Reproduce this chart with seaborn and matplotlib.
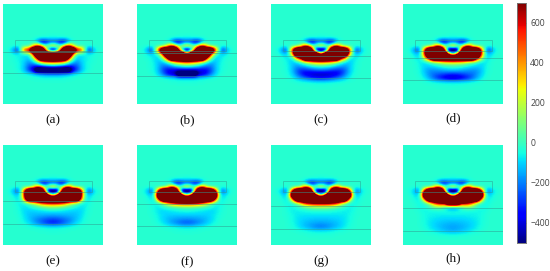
import numpy as np
import matplotlib
matplotlib.use("Agg")
import matplotlib.pyplot as plt
from matplotlib.patches import Rectangle
import seaborn as sns

sns.set_theme(style="white")

panel_labels = ["(a)", "(b)", "(c)", "(d)", "(e)", "(f)", "(g)", "(h)"]
cbar_ticks = [-400, -200, 0, 200, 400, 600]
vmin, vmax = -500, 700
background_level = -25
# cells at or past these readings sit off the colour scale
saturated_high, saturated_low = 850, -470
off_scale_high, off_scale_low = 1700, -900
# depth of the two horizontal layer lines in each panel (percent of panel height)
layer_top = [47.7, 49, 51.5, 53.7, 56.3, 59, 61, 63]
layer_bottom = [69, 72, 74, 76, 79, 81, 84, 86]

Z = [0] * 12
# half field: rows go down the panel, columns go from the centre outwards
a = [
 [-30,-20,-10,-5,-5,0,0,0,0,0,0,0],
 [-300,-320,-440,-440,-150,-20,0,0,0,0,0,0],
 [500,300,100,500,700,250,-10,0,0,0,0,0],
 [-500,-450,600,900,900,850,800,750,100,-350,-130,-20],
 [900,900,900,900,900,450,-20,-60,-40,-30,-20,-5],
 [900,900,900,900,650,100,-80,-60,-40,-30,-10,0],
 [500,450,400,250,50,-80,-150,-90,-40,-20,-10,0],
 [-80,-100,-150,-200,-250,-280,-220,-110,-40,-20,0,0],
 [-480,-480,-480,-480,-480,-400,-260,-120,-40,-15,0,0],
 [-150,-150,-140,-110,-80,-55,-30,-15,-5,0,0,0],
 [-20,-20,-20,-15,-10,-5,0,0,0,0,0,0],
 Z, Z, Z, Z,
]
b = [
 [-30,-20,-10,-5,-5,0,0,0,0,0,0,0],
 [-300,-320,-440,-430,-140,-20,0,0,0,0,0,0],
 [520,320,100,500,680,220,-10,0,0,0,0,0],
 [-500,-450,600,900,900,900,850,750,50,-330,-110,-20],
 [800,900,900,900,900,850,600,60,-60,-60,-30,0],
 [900,900,900,900,850,600,150,-80,-60,-30,-10,0],
 [550,500,420,300,120,0,-100,-100,-50,-20,0,0],
 [0,-10,-40,-80,-140,-190,-180,-110,-40,-15,0,0],
 [-330,-330,-340,-350,-350,-320,-240,-120,-40,-15,0,0],
 [-470,-470,-470,-450,-400,-310,-190,-85,-25,0,0,0],
 [-60,-60,-55,-45,-35,-20,-10,-5,0,0,0,0],
 [-10,-10,-10,-5,-5,0,0,0,0,0,0,0],
 Z, Z, Z,
]
c = [
 [-30,-20,-10,-5,-5,0,0,0,0,0,0,0],
 [-300,-320,-440,-420,-130,-20,0,0,0,0,0,0],
 [530,330,100,500,660,180,-10,0,0,0,0,0],
 [-500,-470,550,900,900,900,900,750,20,-310,-100,-20],
 [500,900,900,900,900,900,850,500,-20,-80,-30,0],
 [850,900,900,900,850,750,450,-20,-60,-30,-10,0],
 [450,420,350,250,120,30,-60,-90,-50,-20,0,0],
 [20,10,-10,-40,-80,-120,-140,-100,-40,-15,0,0],
 [-170,-180,-210,-240,-270,-270,-210,-110,-40,-10,0,0],
 [-440,-440,-430,-410,-370,-290,-190,-90,-25,-5,0,0],
 [-320,-310,-280,-240,-190,-140,-85,-35,-10,0,0,0],
 [-30,-30,-25,-20,-15,-10,-5,0,0,0,0,0],
 [-5,-5,-5,0,0,0,0,0,0,0,0,0],
 Z, Z,
]
d = [
 [-30,-20,-10,-5,-5,0,0,0,0,0,0,0],
 [-300,-320,-430,-410,-120,-20,0,0,0,0,0,0],
 [550,350,100,500,620,120,-10,0,0,0,0,0],
 [-500,-480,500,900,900,900,900,700,-30,-300,-100,-20],
 [100,600,900,900,900,900,900,700,0,-90,-30,0],
 [850,850,850,850,850,850,800,350,-40,-50,-10,0],
 [320,300,280,220,120,60,0,-60,-50,-20,0,0],
 [30,20,10,-10,-30,-50,-70,-70,-40,-15,0,0],
 [-70,-80,-100,-120,-140,-150,-140,-100,-40,-10,0,0],
 [-280,-270,-250,-230,-210,-190,-150,-90,-30,-5,0,0],
 [-440,-430,-390,-340,-280,-200,-120,-50,-15,0,0,0],
 [-40,-40,-35,-30,-25,-15,-10,-5,0,0,0,0],
 [-10,-10,-10,-5,-5,0,0,0,0,0,0,0],
 Z, Z,
]
e = [
 [-30,-20,-10,-5,-5,0,0,0,0,0,0,0],
 [-300,-320,-420,-400,-110,-20,0,0,0,0,0,0],
 [550,350,100,500,600,100,-10,0,0,0,0,0],
 [-500,-480,400,900,900,900,900,800,0,-280,-90,-20],
 [200,700,900,900,900,900,900,800,20,-80,-30,0],
 [900,900,900,900,900,900,850,600,-20,-50,-10,0],
 [650,640,600,500,300,150,50,-30,-40,-20,0,0],
 [120,110,80,50,20,0,-30,-50,-40,-15,0,0],
 [-40,-40,-50,-60,-70,-80,-80,-70,-35,-10,0,0],
 [-120,-120,-115,-110,-105,-100,-90,-60,-25,-5,0,0],
 [-240,-230,-210,-190,-165,-130,-90,-50,-20,0,0,0],
 [-320,-300,-260,-210,-160,-105,-60,-30,-10,0,0,0],
 [-30,-30,-25,-20,-15,-10,-5,0,0,0,0,0],
 [-10,-10,-5,-5,0,0,0,0,0,0,0,0],
 Z,
]
f = [
 [-30,-20,-10,-5,-5,0,0,0,0,0,0,0],
 [-300,-320,-410,-390,-100,-20,0,0,0,0,0,0],
 [540,340,100,480,580,100,-10,0,0,0,0,0],
 [-500,-480,350,900,900,900,900,800,0,-260,-80,-20],
 [200,700,900,900,900,900,900,850,50,-80,-30,0],
 [900,900,900,900,900,900,900,750,-10,-50,-10,0],
 [800,780,750,650,500,300,100,-20,-30,-20,0,0],
 [60,50,40,30,20,10,-10,-40,-35,-10,0,0],
 [-20,-25,-30,-40,-50,-60,-70,-60,-30,-10,0,0],
 [-80,-80,-80,-80,-80,-75,-65,-40,-20,-5,0,0],
 [-150,-145,-140,-130,-115,-95,-70,-40,-15,0,0,0],
 [-240,-225,-195,-160,-125,-85,-50,-20,-5,0,0,0],
 [-40,-40,-35,-25,-20,-10,-5,0,0,0,0,0],
 [-10,-10,-5,-5,0,0,0,0,0,0,0,0],
 Z,
]
g = [
 [-30,-20,-10,-5,-5,0,0,0,0,0,0,0],
 [-300,-310,-400,-380,-100,-20,0,0,0,0,0,0],
 [520,320,100,460,560,100,-10,0,0,0,0,0],
 [-500,-480,300,850,900,900,900,800,0,-240,-70,-20],
 [100,700,900,900,900,900,900,850,70,-80,-30,0],
 [900,900,900,900,900,900,850,500,0,-50,-10,0],
 [800,800,780,700,600,300,60,-20,-30,-20,0,0],
 [150,150,130,100,60,20,-10,-30,-30,-10,0,0],
 [-20,-20,-20,-25,-30,-35,-40,-40,-25,-5,0,0],
 [-50,-50,-50,-50,-50,-50,-45,-30,-15,-5,0,0],
 [-90,-90,-85,-80,-75,-65,-50,-30,-15,0,0,0],
 [-130,-125,-120,-110,-95,-75,-50,-25,-10,0,0,0],
 [-190,-180,-155,-125,-100,-70,-40,-20,-5,0,0,0],
 [-40,-40,-35,-25,-15,-10,-5,0,0,0,0,0],
 [-10,-5,-5,-5,0,0,0,0,0,0,0,0],
]
h = [
 [-30,-20,-10,-5,-5,0,0,0,0,0,0,0],
 [-300,-300,-390,-370,-100,-20,0,0,0,0,0,0],
 [500,300,100,440,540,100,-10,0,0,0,0,0],
 [-500,-480,300,850,900,900,900,800,0,-220,-60,-20],
 [100,700,900,900,900,900,900,850,80,-70,-30,0],
 [900,900,900,900,900,900,900,560,0,-50,-10,0],
 [850,850,830,780,650,400,100,-10,-30,-20,0,0],
 [-200,-150,0,100,120,80,20,-20,-30,-10,0,0],
 [-20,-20,-20,-25,-30,-30,-30,-30,-20,-5,0,0],
 [-40,-40,-40,-40,-35,-35,-30,-25,-10,0,0,0],
 [-70,-70,-70,-65,-60,-50,-40,-25,-10,0,0,0],
 [-110,-105,-100,-90,-80,-65,-45,-25,-10,0,0,0],
 [-135,-130,-120,-105,-85,-65,-40,-20,-5,0,0,0],
 [-120,-110,-95,-75,-55,-35,-20,-10,0,0,0,0],
 [-15,-15,-10,-10,-5,0,0,0,0,0,0,0],
]
fields = [a, b, c, d, e, f, g, h]

# panel boxes in pixels: left, top
lefts = [3, 137, 271, 403, 3, 137, 271, 403]
tops = [4, 4, 4, 4, 145, 145, 145, 145]
label_y = [120, 120, 120, 118, 261, 262, 261, 258]
W, H = 550, 271


def box(x, y, w, h):
    return [x / W, 1 - (y + h) / H, w / W, h / H]


fig = plt.figure(figsize=(W / 100, H / 100), dpi=100, facecolor="white")
cax = fig.add_axes(box(517, 3, 9, 240))

for i, field in enumerate(fields):
    half = np.array(field, dtype=float)
    half[half >= saturated_high] = off_scale_high
    half[half <= saturated_low] = off_scale_low
    half = np.pad(half, ((8, 2), (0, 1)))        # quiet rows above/below, one quiet column
    full = np.hstack([half[:, :0:-1], half]) + background_level
    ax = fig.add_axes(box(lefts[i], tops[i], 100, 100))
    sns.heatmap(full, ax=ax, cmap="jet", vmin=vmin, vmax=vmax, square=False,
                xticklabels=False, yticklabels=False,
                cbar=(i == 0), cbar_ax=cax if i == 0 else None,
                cbar_kws={"ticks": cbar_ticks} if i == 0 else None)
    ax.imshow(full, cmap="jet", vmin=vmin, vmax=vmax, extent=(0, 25, 25, 0),
              interpolation="bicubic", aspect="auto", zorder=2)
    ax.set_xlim(0, 25)
    ax.set_ylim(25, 0)
    s = 25 / 100
    for yy in (layer_top[i], layer_bottom[i]):
        ax.axhline(yy * s, color="#2f9c92", lw=0.6, alpha=0.6, zorder=3)
    ax.add_patch(Rectangle((11.5 * s, 36 * s), 77.5 * s, 11 * s, fill=False,
                           ec="#2f9c92", lw=0.5, alpha=0.7, zorder=3))
    fig.text((lefts[i] + 50) / W, 1 - label_y[i] / H, panel_labels[i], ha="center",
             va="center", fontsize=9.5, family="Liberation Serif", color="#111111")

cax.tick_params(direction="in", length=2, width=0.6, color="#222222", pad=3,
                labelsize=6.2, labelcolor="#444444", right=True)
for t in cax.get_yticklabels():
    t.set_family("Open Sans")
for sp in cax.spines.values():
    sp.set_visible(True)
    sp.set_color("#777777")
    sp.set_linewidth(0.5)

fig.savefig("out.png", dpi=100, facecolor="white")
